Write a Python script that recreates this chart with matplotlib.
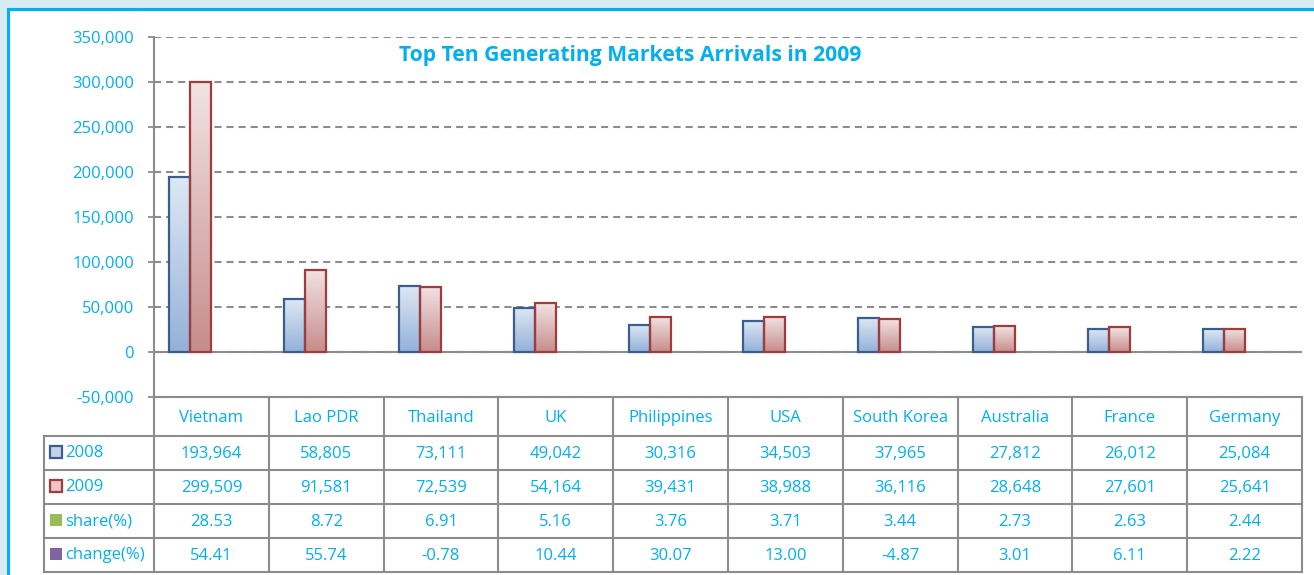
import numpy as np
import matplotlib
matplotlib.use('Agg')
import matplotlib.pyplot as plt
from matplotlib.patches import Rectangle
from matplotlib.colors import LinearSegmentedColormap
from matplotlib.ticker import FuncFormatter

plt.rcParams['font.family'] = ['Open Sans', 'DejaVu Sans']

categories = ['Vietnam', 'Lao PDR', 'Thailand', 'UK', 'Philippines', 'USA',
              'South Korea', 'Australia', 'France', 'Germany']
arrivals_2008 = [193964, 58805, 73111, 49042, 30316, 34503, 37965, 27812, 26012, 25084]
arrivals_2009 = [299509, 91581, 72539, 54164, 39431, 38988, 36116, 28648, 27601, 25641]
share_pct = [28.53, 8.72, 6.91, 5.16, 3.76, 3.71, 3.44, 2.73, 2.63, 2.44]
change_pct = [54.41, 55.74, -0.78, 10.44, 30.07, 13.00, -4.87, 3.01, 6.11, 2.22]
series_labels = ['2008', '2009', 'share(%)', 'change(%)']
yticks = list(range(-50000, 350001, 50000))
title = 'Top Ten Generating Markets Arrivals in 2009'

TXT = '#00B0F0'
GRID = '#8C8C8C'
W, H = 1314, 575

fig = plt.figure(figsize=(W / 100, H / 100), dpi=100)
fig.patch.set_facecolor('#D9EBF2')
bg = fig.add_axes([0, 0, 1, 1], zorder=-10)
bg.set_xlim(0, W)
bg.set_ylim(H, 0)
bg.axis('off')
bg.add_patch(Rectangle((8, 9), W + 20, H + 20, facecolor='white',
                       edgecolor='#00B0F0', linewidth=2.2))

# ---------------- main chart ----------------
ax = fig.add_axes([154 / W, 1 - 397 / H, (1302 - 154) / W, (397 - 37) / H])
ax.set_facecolor('none')
x = np.arange(len(categories))
bw = 0.183

styles = [
    dict(edge='#3A5F8F', cmap=['#94B1D9', '#DEE8F4']),
    dict(edge='#A23B3B', cmap=['#C68D8C', '#F2E3E3']),
    dict(edge='#9BBB59', cmap=['#9BBB59', '#9BBB59']),
    dict(edge='#8064A2', cmap=['#8064A2', '#8064A2']),
]
series = [arrivals_2008, arrivals_2009, share_pct, change_pct]
grad = np.linspace(0, 1, 256).reshape(-1, 1)
for k, (vals, st) in enumerate(zip(series, styles)):
    pos = x + (k - 1.5) * bw
    lw = 1.6 if k < 2 else 0
    bars = ax.bar(pos, vals, width=bw, facecolor='none', edgecolor=st['edge'],
                  linewidth=lw, zorder=4)
    cmap = LinearSegmentedColormap.from_list('g%d' % k, st['cmap'])
    for r in bars.patches:
        x0, y0 = r.get_x(), r.get_y()
        w, h = r.get_width(), r.get_height()
        im = ax.imshow(grad, extent=[x0, x0 + w, y0, y0 + h], origin='lower',
                       cmap=cmap, aspect='auto', zorder=3, interpolation='bilinear')
        im.set_clip_path(r)

ax.set_xlim(-0.5, len(categories) - 0.5)
ax.set_ylim(yticks[0], yticks[-1])
ax.set_yticks(yticks)
ax.yaxis.set_major_formatter(FuncFormatter(lambda v, p: f'{v:,.0f}'))
ax.set_xticks([])
ax.set_axisbelow(True)
ax.grid(axis='y', color=GRID, linewidth=1.5, linestyle=(0, (3.4, 2.4)), zorder=1)
ax.axhline(0, color=GRID, linewidth=1.5, zorder=2)
for s in ['top', 'right']:
    ax.spines[s].set_visible(False)
for s in ['left', 'bottom']:
    ax.spines[s].set_color(GRID)
    ax.spines[s].set_linewidth(1.5)
ax.tick_params(axis='y', length=4.3, width=1.3, color=GRID, labelcolor=TXT,
               labelsize=12, pad=10)
ax.text(0.4146, (397 - 61.4) / 360, title, transform=ax.transAxes, ha='center',
        va='baseline', fontsize=15.2, fontweight='bold', color=TXT)

# ---------------- data table ----------------
cw = (1302 - 154) / len(categories)
ext = (154 - 44) / cw
tax = fig.add_axes([44 / W, 1 - 572 / H, (1302 - 44) / W, (572 - 397) / H])
tax.set_xlim(-0.5 - ext, len(categories) - 0.5)
tax.set_ylim(572, 397)
tax.axis('off')

rows_y = [397, 435.5, 469.5, 503.5, 537.5, 571.5]
L = -0.5 - ext
R = len(categories) - 0.5
for yy in rows_y[1:]:
    tax.plot([L, R], [yy, yy], color=GRID, lw=1.5, clip_on=False, solid_capstyle='projecting')
for k in range(len(categories) + 1):
    tax.plot([-0.5 + k, -0.5 + k], [rows_y[0], rows_y[-1]], color=GRID, lw=1.5, clip_on=False)
tax.plot([L, L], [rows_y[1], rows_y[-1]], color=GRID, lw=1.5, clip_on=False)

CAP = 6.0  # half cap height in pixels
hc = (rows_y[0] + rows_y[1]) / 2
for i, c in enumerate(categories):
    tax.text(i, hc + CAP, c, ha='center', va='baseline', fontsize=12, color=TXT)

fmts = [lambda v: f'{v:,}', lambda v: f'{v:,}', lambda v: f'{v:.2f}', lambda v: f'{v:.2f}']
mk = [dict(mfc='#C3D4EA', mec='#3A5F8F', mew=1.6),
      dict(mfc='#EBC8C7', mec='#A23B3B', mew=1.6),
      dict(mfc='#9BBB59', mec='#9BBB59', mew=0),
      dict(mfc='#8064A2', mec='#8064A2', mew=0)]
for r, (lab, vals, f, m) in enumerate(zip(series_labels, series, fmts, mk)):
    yc = (rows_y[r + 1] + rows_y[r + 2]) / 2
    for i, v in enumerate(vals):
        tax.text(i, yc + CAP, f(v), ha='center', va='baseline', fontsize=12, color=TXT)
    tax.plot([L + (56 - 44) / cw], [yc - 1], marker='s', markersize=8.5, linestyle='none',
             clip_on=False, **m)
    tax.text(L + (65 - 44) / cw, yc - 1.5 + CAP, lab, ha='left', va='baseline',
             fontsize=12, color=TXT)

fig.savefig('out.png', dpi=100)
